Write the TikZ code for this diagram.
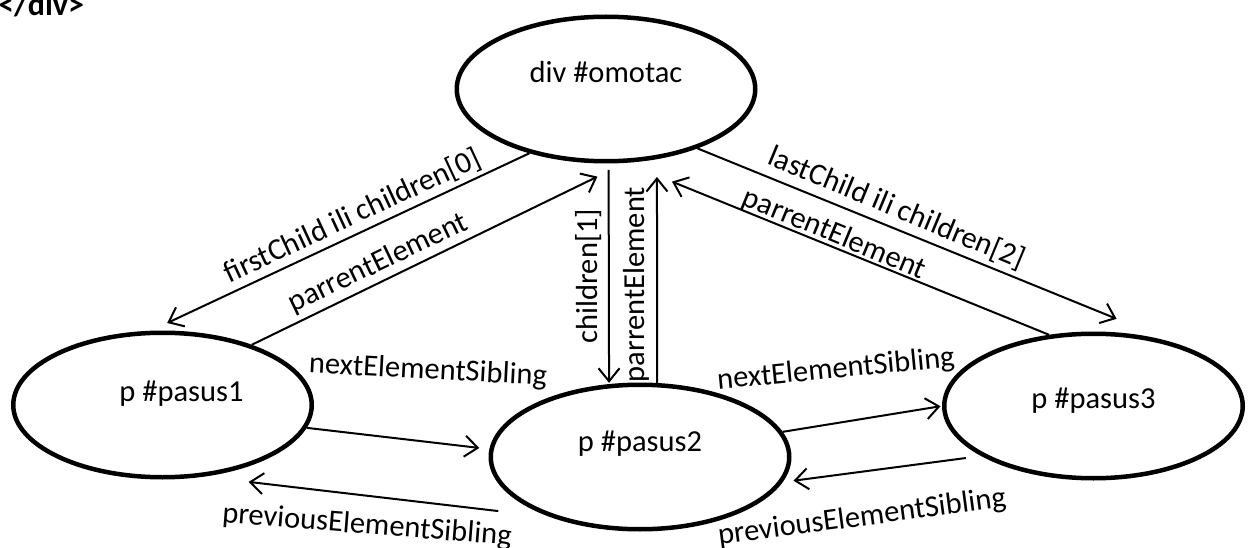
\documentclass[tikz,border=0pt]{standalone}
\usepackage{fontspec}
\setmainfont{Carlito}
\usetikzlibrary{positioning, arrows.meta, shapes.geometric}

\newcommand{\elemtext}[3]{\hspace*{#1}\raisebox{#2}[0pt][0pt]{#3}}

\begin{document}
\begin{tikzpicture}[x=1pt, y=1pt,
  elem/.style={ellipse, draw, line width=4.5pt, minimum width=298.5pt, minimum height=144.5pt, inner sep=0pt, font=\fontsize{30.5}{36}\selectfont},
  lbl/.style={inner sep=0pt, font=\fontsize{30.5}{36}\selectfont},
  arr/.style={->, line width=2pt, >={Straight Barb[length=13pt, width=21pt]}}]
\useasboundingbox (0,0) rectangle (1248,-548);

\node[anchor=base west, inner sep=0pt, font=\fontsize{32}{38}\selectfont\bfseries] (closetag) at (-2,-16) {</div>};

% elements
\node[elem] (div) at (606,-89) {\elemtext{0pt}{6pt}{div \#omotac}};
\node[elem] (p1) at (162.5,-405) {\elemtext{38pt}{3.3pt}{p \#pasus1}};
\node[elem] (p2) at (640,-457) {\elemtext{0pt}{5.3pt}{p \#pasus2}};
\node[elem] (p3) at (1093.5,-406) {\elemtext{0pt}{-2.3pt}{p \#pasus3}};

% parent - child
\draw[arr, shorten >=18.2pt] (div.-140.8) -- (p1.99.9);
\draw[arr, shorten >=31.5pt] (p1.34.2) -- (div.-75.6);
\draw[arr, shorten <=6.5pt, shorten >=1.2pt] (div.-88.7) -- (p2.113.9);
\draw[arr, shorten >=17.8pt] (p2.77.3) -- (div.-54.2);
\draw[arr, shorten >=73.8pt] (div.-33.3) -- (p3.33.7);
\draw[arr, shorten >=49.9pt] (p3.122.5) -- (div.-75.2);

% siblings
\draw[arr, shorten >=10.1pt] (p1.-9.9) -- (p2.177.6);
\draw[arr, shorten <=52.8pt, shorten >=45.1pt] (p2.-146.1) -- (p1.-60.8);
\draw[arr, shorten >=1.5pt] (p2.10.8) -- (p3.180.2);
\draw[arr, shorten <=15.5pt, shorten >=11pt] (p3.-156.1) -- (p2.-10.6);

\node[lbl, rotate=25] (fc) at (352.5,-216) {firstChild ili children[0]};
\node[lbl, rotate=25.5] (peL) at (378.3,-263.3) {parrentElement};
\node[lbl, rotate=90] (ch1) at (589,-276) {children[1]};
\node[lbl, rotate=90] (peM) at (636.5,-284.5) {parrentElement};
\node[lbl, rotate=-22.5] (lc) at (896.7,-208.3) {lastChild ili children[2]};
\node[lbl, rotate=-22.5] (peR) at (834.2,-234.2) {parrentElement};
\node[lbl, rotate=-3] (neL) at (428,-371) {nextElementSibling};
\node[lbl, rotate=-4.5] (psL) at (367,-526) {previousElementSibling};
\node[lbl, rotate=5.5] (neR) at (836,-370) {nextElementSibling};
\node[lbl, rotate=7.5] (psR) at (862,-518) {previousElementSibling};
\end{tikzpicture}
\end{document}
